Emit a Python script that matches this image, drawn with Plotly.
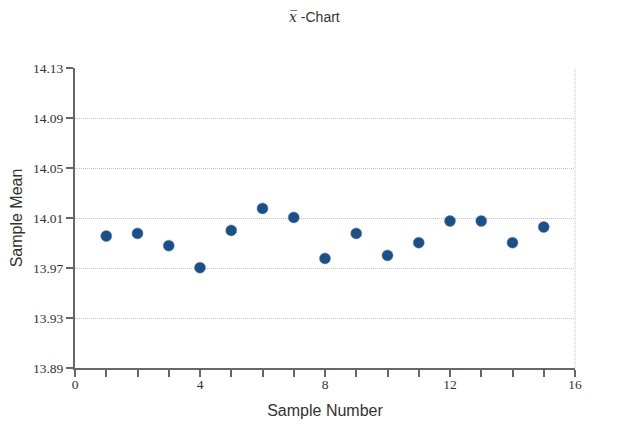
import plotly.graph_objects as go

sample_number = list(range(1, 16))
sample_mean = [13.9956, 13.9977, 13.9879, 13.9703, 14.0001, 14.0177, 14.0105,
               13.9777, 13.9977, 13.9801, 13.9903, 14.0076, 14.0076, 13.9903, 14.0028]
y_ticks = [13.89, 13.93, 13.97, 14.01, 14.05, 14.09, 14.13]
x_ticks = [0, 4, 8, 12, 16]

W, H = 624, 432  # page body has an 8px margin

fig = go.Figure()
fig.add_trace(go.Scatter(
    x=sample_number, y=sample_mean, mode="markers",
    marker=dict(size=11, color="#17508a", line=dict(width=0.5, color="#6a7f99")),
    showlegend=False, hoverinfo="x+y"))

axis_font = dict(family="Liberation Serif", size=13.5, color="#333")
title_font = dict(family="Liberation Sans", size=16, color="#333")
fig.update_layout(
    width=W, height=H,
    margin=dict(l=67, r=57, t=60, b=72),
    paper_bgcolor="white", plot_bgcolor="white",
    title=dict(text="<span style='font-family:DejaVu Serif'><i>x̅</i></span> -Chart",
               x=0.491, xanchor="center", y=1 - 9/H, yanchor="middle",
               font=dict(family="Liberation Sans", size=14, color="#333")),
    xaxis=dict(range=[0, 16], tickvals=x_ticks, ticktext=[str(v) for v in x_ticks],
               showgrid=False, zeroline=False, showline=True, linecolor="#666", linewidth=2,
               ticks="outside", ticklen=7, tickcolor="#666", tickwidth=2,
               minor=dict(tickvals=list(range(0, 17)), ticks="outside", ticklen=7,
                          tickcolor="#666", tickwidth=2, showgrid=False),
               tickfont=axis_font, automargin=False, ticklabelstandoff=-4,
               title=dict(text="Sample Number", font=title_font, standoff=14)),
    yaxis=dict(range=[13.89, 14.13], tickvals=y_ticks, ticktext=[f"{v:.2f}" for v in y_ticks],
               showgrid=True, gridcolor="#c4c4c4", griddash="1px,1px", gridwidth=1,
               zeroline=False, showline=True, linecolor="#666", linewidth=2,
               ticks="outside", ticklen=7, tickcolor="#666", tickwidth=2,
               tickfont=axis_font, automargin=False,
               title=dict(text="Sample Mean", font=title_font, standoff=10)),
    shapes=[dict(type="line", xref="paper", yref="paper", x0=1, x1=1, y0=0, y1=1,
                 line=dict(color="#c4c4c4", width=1, dash="1px,1px"))],
)
fig.write_html("out.html")
